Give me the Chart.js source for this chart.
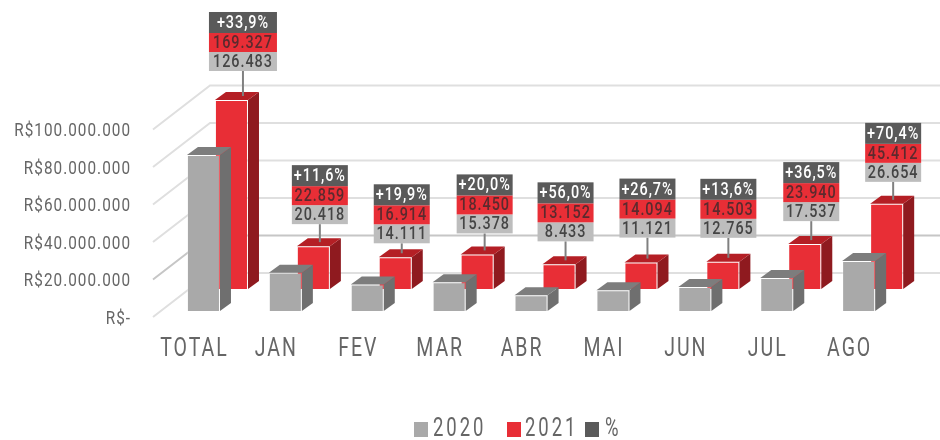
<!DOCTYPE html>
<html lang="pt-BR">
<head>
<meta charset="utf-8">
<title>2020 x 2021</title>
<script src="https://cdn.jsdelivr.net/npm/chart.js@4"></script>
<style>
    html, body { margin: 0; padding: 0; background: #fff; }
    canvas { display: block; }
</style>
</head>
<body>
<canvas id="grafico" width="940" height="440"></canvas>
<script>
// dados
const categorias = ['TOTAL', 'JAN', 'FEV', 'MAR', 'ABR', 'MAI', 'JUN', 'JUL', 'AGO'];
// as barras de TOTAL estao desenhadas na altura que o eixo mostra, nao no valor do rotulo
const valores2020 = [83200000, 20418000, 14111000, 15378000, 8433000, 11121000, 12765000, 17537000, 26654000];
const valores2021 = [100800000, 22859000, 16914000, 18450000, 13152000, 14094000, 14503000, 23940000, 45412000];
const rotulos2020 = ['126.483', '20.418', '14.111', '15.378', '8.433', '11.121', '12.765', '17.537', '26.654'];
const rotulos2021 = ['169.327', '22.859', '16.914', '18.450', '13.152', '14.094', '14.503', '23.940', '45.412'];
const rotulosPct = ['+33,9%', '+11,6%', '+19,9%', '+20,0%', '+56,0%', '+26,7%', '+13,6%', '+36,5%', '+70,4%'];
const nomesLegenda = ['2020', '2021', '%'];

const CINZA = '#a9a9a9';
const VERMELHO = '#e82e36';
const ESCURO = '#5a5a5a';

// ajustes de desenho
const hastes = [25, 18, 10, 17, 19, 21, 20, 19, 18];
const desvioHaste = [5, 0, 0, 1, 0, 0, -1, 0, 0];
const legendaCaixaX = [414, 507, 585];
const legendaTextoX = [433, 525, 605];

// eixos: todos com a mesma escala, so muda onde fica o zero
const ESCALA = 1.875 / 1000000;
const FAIXA = 100000000;
const minCinza = -7 / ESCALA;
const minVermelho = -29 / ESCALA;

// a fonte original e estreita, entao o texto e comprimido na horizontal
function texto(ctx, txt, x, y, o) {
    ctx.save();
    ctx.font = o.font;
    ctx.letterSpacing = o.esp + 'px';
    ctx.fillStyle = o.cor;
    ctx.textAlign = o.alinha;
    ctx.textBaseline = 'middle';
    ctx.translate(x, y);
    ctx.scale(o.sx, 1);
    ctx.fillText(txt, 0, 0);
    ctx.restore();
}

const cubos = {
    id: 'cubos',
    // paredes do fundo
    beforeDatasetsDraw(chart) {
        const ctx = chart.ctx;
        const y = chart.scales.y;
        ctx.save();
        ctx.lineWidth = 2;
        y.ticks.forEach(t => {
            const py = y.getPixelForValue(t.value);
            ctx.strokeStyle = t.value === 20000000 ? '#c6c6c6' : '#dfdfdf';
            ctx.beginPath();
            ctx.moveTo(153, py - 1);
            ctx.lineTo(210, py - 45);
            ctx.lineTo(940, py - 45);
            ctx.stroke();
        });
        ctx.restore();
    },
    // lateral e topo de cada barra, a frente quem desenha e o Chart.js
    beforeDatasetDraw(chart, args) {
        const ctx = chart.ctx;
        const cores = args.index === 0 ? ['#6f6f6f', '#7d7d7d'] : ['#8f1a1f', '#b41f25'];
        ctx.save();
        args.meta.data.forEach(b => {
            const esq = b.x - b.width / 2;
            const dir = b.x + b.width / 2;
            ctx.fillStyle = cores[0];
            ctx.beginPath();
            ctx.moveTo(dir, b.y);
            ctx.lineTo(dir + 11, b.y - 8);
            ctx.lineTo(dir + 11, b.base - 8);
            ctx.lineTo(dir, b.base);
            ctx.closePath();
            ctx.fill();
            ctx.fillStyle = cores[1];
            ctx.beginPath();
            ctx.moveTo(esq, b.y);
            ctx.lineTo(esq + 11, b.y - 8);
            ctx.lineTo(dir + 11, b.y - 8);
            ctx.lineTo(dir, b.y);
            ctx.closePath();
            ctx.fill();
        });
        ctx.restore();
    },
    // caixas com os valores acima das barras vermelhas
    afterDatasetsDraw(chart) {
        const ctx = chart.ctx;
        const barras = chart.getDatasetMeta(1).data;
        const fonte = '500 18px Roboto';
        barras.forEach((b, i) => {
            const cx = b.x + 6.5 + desvioHaste[i];
            const fim = b.y - 4;
            const base = fim - hastes[i];
            const largura = rotulos2021[i].length > 6 ? 68 : 56;
            const esq = cx - largura / 2;

            ctx.save();
            ctx.strokeStyle = '#808080';
            ctx.lineWidth = 2;
            ctx.beginPath();
            ctx.moveTo(cx, base);
            ctx.lineTo(cx, fim);
            ctx.stroke();
            ctx.restore();

            const linhas = [
                { txt: rotulos2020[i], fundo: '#bdbdbd', cor: '#454545', alt: 19 },
                { txt: rotulos2021[i], fundo: VERMELHO, cor: '#5b2a2e', alt: 19 },
                { txt: rotulosPct[i], fundo: ESCURO, cor: '#ffffff', alt: 21 }
            ];
            let topo = base;
            linhas.forEach(l => {
                topo -= l.alt;
                ctx.fillStyle = l.fundo;
                ctx.fillRect(esq, topo, largura, l.alt);
                texto(ctx, l.txt, cx, topo + l.alt / 2 + 1, { font: fonte, esp: 1.2, cor: l.cor, alinha: 'center', sx: 0.8 });
            });
        });
    },
    afterDraw(chart) {
        const ctx = chart.ctx;
        const { x, y } = chart.scales;
        const cores = [CINZA, VERMELHO, ESCURO];

        y.ticks.forEach(t => {
            texto(ctx, t.label, 131, y.getPixelForValue(t.value) + 1, { font: '400 18px Roboto', esp: 1.2, cor: '#666666', alinha: 'right', sx: 0.85 });
        });
        x.ticks.forEach((t, i) => {
            texto(ctx, t.label, x.getPixelForTick(i) - 23, 350, { font: '400 25px Roboto', esp: 2.5, cor: '#666666', alinha: 'center', sx: 0.78 });
        });
        nomesLegenda.forEach((nome, i) => {
            ctx.fillStyle = cores[i];
            ctx.fillRect(legendaCaixaX[i], 422, 14, 15);
            texto(ctx, nome, legendaTextoX[i], 430, { font: '400 25px Roboto', esp: 4, cor: '#666666', alinha: 'left', sx: 0.74 });
        });
    }
};

const ctx = document.getElementById('grafico').getContext('2d');
const meuGrafico = new Chart(ctx, {
    type: 'bar',
    data: {
        labels: categorias,
        datasets: [
            {
                label: nomesLegenda[0],
                data: valores2020,
                backgroundColor: CINZA,
                borderColor: 'rgba(255,255,255,0.25)',
                borderWidth: 1,
                yAxisID: 'yCinza',
                clip: false,
                order: 1 // cinza na frente do vermelho
            },
            {
                label: nomesLegenda[1],
                data: valores2021,
                backgroundColor: VERMELHO,
                borderColor: 'rgba(255,255,255,0.25)',
                borderWidth: 1,
                yAxisID: 'yVermelho',
                clip: false,
                order: 2
            }
        ]
    },
    options: {
        responsive: false,
        animation: false,
        categoryPercentage: 0.684,
        barPercentage: 1.18,
        layout: { padding: { top: 130.5, right: 26.4, bottom: 62, left: 0 } },
        plugins: {
            legend: { display: false },
            tooltip: { enabled: false }
        },
        scales: {
            x: {
                afterFit: s => { s.height = 60; },
                grid: { display: false },
                border: { display: false },
                ticks: { display: false, autoSkip: false, maxRotation: 0 }
            },
            y: {
                min: 0,
                max: FAIXA,
                afterFit: s => { s.width = 176.5; },
                grid: { display: false },
                border: { display: false },
                ticks: {
                    display: false,
                    stepSize: 20000000,
                    callback: v => v === 0 ? 'R$-' : 'R$' + v.toLocaleString('pt-BR')
                }
            },
            yCinza: { display: false, min: minCinza, max: minCinza + FAIXA },
            yVermelho: { display: false, min: minVermelho, max: minVermelho + FAIXA }
        }
    },
    plugins: [cubos]
});
</script>
</body>
</html>
